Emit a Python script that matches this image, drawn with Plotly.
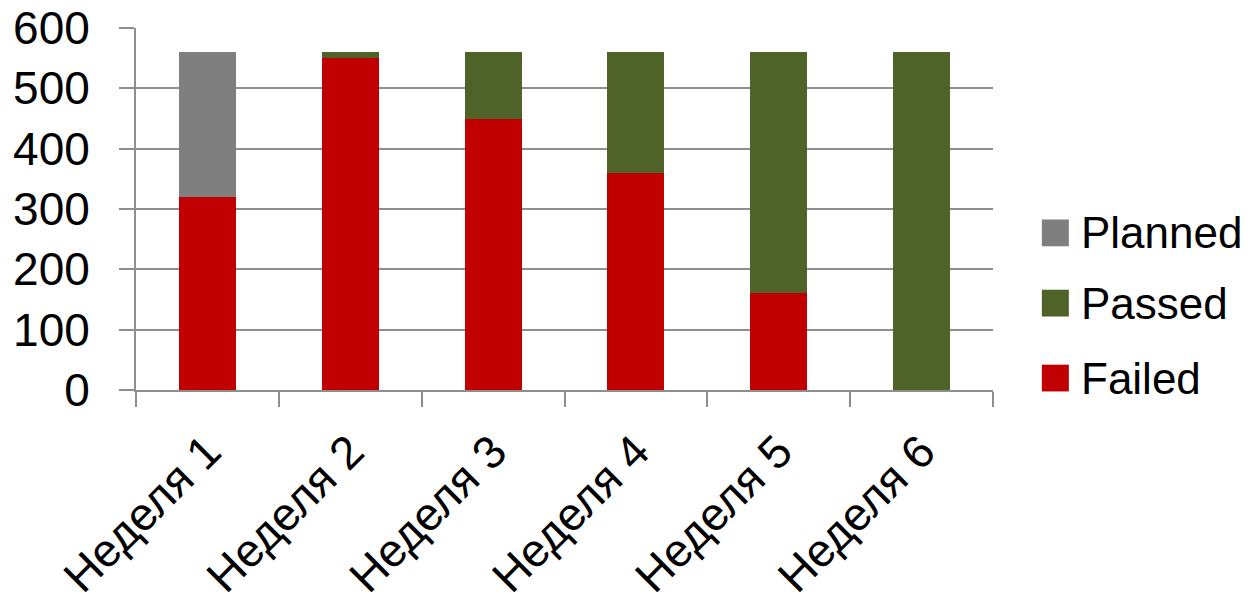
import plotly.graph_objects as go

categories = ["Неделя 1", "Неделя 2", "Неделя 3", "Неделя 4", "Неделя 5", "Неделя 6"]
failed = [320, 550, 450, 360, 160, 0]
passed = [0, 10, 110, 200, 400, 560]
planned = [240, 0, 0, 0, 0, 0]

series_names = ["Failed", "Passed", "Planned"]
series_values = [failed, passed, planned]
series_colors = ["#C00000", "#4F6228", "#7F7F7F"]

FONT = "Liberation Sans, Arial, sans-serif"
AXIS_COLOR = "#8E8E8E"

fig = go.Figure()
for name, vals, col in zip(series_names, series_values, series_colors):
    fig.add_trace(go.Bar(x=categories, y=vals, name=name, marker=dict(color=col, line=dict(width=0)),
                         showlegend=False))

# custom legend (large square swatches like the original)
legend_y = {"Planned": 0.434, "Passed": 0.24, "Failed": 0.033}
for name, col in zip(series_names, series_colors):
    yc = legend_y[name]
    fig.add_shape(type="rect", xref="paper", yref="paper",
                  x0=1.057, x1=1.0885, y0=yc - 0.037, y1=yc + 0.037,
                  fillcolor=col, line=dict(width=0))
    fig.add_annotation(x=1.1, y=yc, xref="paper", yref="paper", text=name,
                       showarrow=False, xanchor="left", yanchor="middle",
                       font=dict(size=44, color="black", family=FONT))

fig.update_layout(
    width=1251, height=601,
    margin=dict(l=128, r=266, t=20, b=219),
    barmode="stack",
    bargap=0.6,
    plot_bgcolor="white",
    paper_bgcolor="white",
    font=dict(family=FONT, size=44, color="black"),
    showlegend=False,
)
fig.update_yaxes(range=[0, 600], dtick=100, showgrid=True, gridcolor=AXIS_COLOR, gridwidth=2,
                 showline=True, linecolor=AXIS_COLOR, linewidth=2,
                 ticks="outside", ticklen=15, tickcolor=AXIS_COLOR, tickwidth=2,
                 ticklabelstandoff=20, zeroline=False, automargin=False,
                 ticklabeloverflow="allow",
                 tickfont=dict(size=46, family=FONT))
fig.update_xaxes(showline=True, linecolor=AXIS_COLOR, linewidth=2,
                 ticks="outside", ticklen=15, tickcolor=AXIS_COLOR, tickwidth=2,
                 tickson="boundaries", tickangle=-45, automargin=False,
                 ticklabelstandoff=14, ticklabeloverflow="allow",
                 tickfont=dict(size=46, family=FONT))

fig.write_html("out.html")
